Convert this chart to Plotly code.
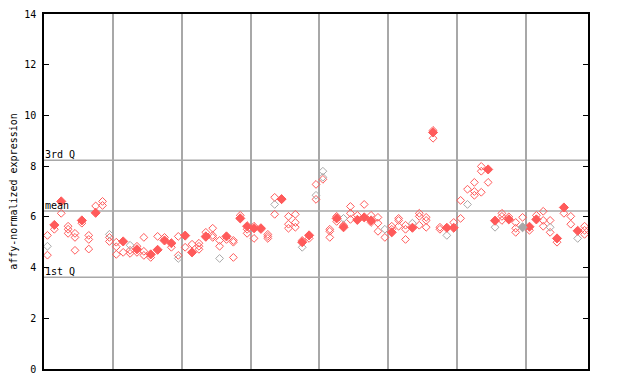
import plotly.graph_objects as go

# values per sample column (index 0..78): list of replicate values
col_values = [
    [5.27, 4.84, 4.49], [5.68, 5.51], [6.61, 6.14], [5.63, 5.51, 5.35], [5.35, 5.19, 4.68],
    [5.86, 5.75], [5.27, 5.11, 4.73], [6.43, 6.16], [6.61, 6.45], [5.31, 5.19, 5.03],
    [5.0, 4.82, 4.52], [5.03, 4.6], [4.88, 4.68, 4.56], [4.84, 4.72, 4.6], [5.19, 4.64, 4.48],
    [4.52, 4.4], [5.23, 4.7], [5.19, 5.07], [4.96, 4.8], [5.23, 4.48, 4.36],
    [5.26, 4.8], [4.92, 4.6], [4.96, 4.84, 4.72], [5.39, 5.23, 5.19], [5.55, 5.27, 5.19],
    [5.07, 4.84, 4.36], [5.23, 5.11], [5.07, 5.0, 4.4], [6.06, 5.94], [5.63, 5.51, 5.35],
    [5.63, 5.55, 5.15], [5.55, 5.5], [5.31, 5.23, 5.15], [6.77, 6.49, 6.1], [6.7, 6.68],
    [6.02, 5.71, 5.55], [6.1, 5.78, 5.59], [5.07, 5.0, 4.8], [5.27, 5.15], [7.28, 6.85, 6.69],
    [7.8, 7.56, 7.48], [5.51, 5.43, 5.19], [6.02, 5.94, 5.82], [5.94, 5.67, 5.59], [6.41, 6.14, 5.9],
    [6.06, 5.88], [6.49, 5.98], [6.06, 5.86, 5.78], [5.98, 5.75, 5.43], [5.51, 5.19],
    [5.63, 5.51, 5.39], [5.94, 5.86, 5.63], [5.67, 5.51, 5.11], [5.75, 5.57], [6.14, 6.02, 5.67],
    [5.98, 5.86, 5.59], [9.41, 9.33, 9.1], [5.59, 5.51], [5.57, 5.27], [5.78, 5.57],
    [6.65, 5.94], [7.09, 6.49], [7.36, 7.0, 6.85], [7.99, 7.8, 6.97], [7.87, 7.36],
    [5.85, 5.59], [6.14, 6.02, 5.86], [6.0, 5.9], [5.78, 5.55, 5.39], [5.98, 5.59],
    [5.61, 5.47], [6.06, 5.9], [6.22, 5.86, 5.63], [5.86, 5.59, 5.39], [5.15, 5.0],
    [6.37, 6.14], [6.02, 5.71], [5.45, 5.15], [5.63, 5.47, 5.31],
]
# which replicate (by column, index) is drawn filled
filled_points = [
    (1, 0), (2, 0), (5, 0), (7, 1), (11, 0), (13, 1), (15, 0), (16, 1), (17, 1), (18, 0),
    (20, 0), (21, 1), (23, 1), (26, 0), (28, 1), (29, 0), (30, 1), (31, 0), (34, 0), (37, 1),
    (38, 0), (42, 1), (43, 2), (45, 1), (46, 1), (47, 1), (50, 2), (53, 1), (56, 1), (58, 0),
    (59, 1), (64, 0), (65, 0), (67, 1), (69, 1), (70, 0), (71, 1), (74, 0), (75, 0), (77, 0),
]
# which replicates are drawn grey
grey_points = [
    (0, 1), (9, 0), (12, 0), (19, 2), (25, 2), (33, 1), (37, 2), (39, 1), (40, 0), (40, 1),
    (43, 0), (49, 0), (53, 0), (58, 1), (61, 1), (65, 1), (69, 1), (73, 1), (77, 1),
]
group_bounds = [9.5, 19.5, 29.5, 39.5, 49.5, 59.5, 69.5]
q3_value, mean_value, q1_value = 8.23, 6.23, 3.62
y_ticks = [0, 2, 4, 6, 8, 10, 12, 14]

RED = "#ff5a5a"
GREY = "#a8a8a8"
filled_set = set(filled_points)
grey_set = set(grey_points)

groups = {}
for ci, vals in enumerate(col_values):
    for ri, v in enumerate(vals):
        key = ((ci, ri) in filled_set, (ci, ri) in grey_set)
        groups.setdefault(key, ([], []))
        groups[key][0].append(ci)
        groups[key][1].append(v)

fig = go.Figure()
for (is_filled, is_grey), (xs, ys) in sorted(groups.items()):
    fig.add_trace(go.Scatter(
        x=xs, y=ys, mode="markers", showlegend=False, hoverinfo="skip",
        marker=dict(symbol="diamond" if is_filled else "diamond-open",
                    size=7 if is_filled else 6,
                    color=GREY if is_grey else RED,
                    line=dict(width=1, color=GREY if is_grey else RED)),
    ))

for yv, label in [(q3_value, "3rd Q"), (mean_value, "mean"), (q1_value, "1st Q")]:
    fig.add_shape(type="line", xref="paper", x0=0, x1=1, yref="y", y0=yv, y1=yv,
                  line=dict(color="#a8a8a8", width=1.5), layer="below")
    fig.add_annotation(xref="paper", x=0, y=yv, yref="y", text=label, showarrow=False,
                       xanchor="left", yanchor="bottom", xshift=-1, yshift=-2,
                       font=dict(family="DejaVu Sans Mono", size=10, color="#000000"))

# the page body adds an 8px offset, margins compensate for it
fig.update_layout(
    width=640, height=384,
    margin=dict(l=36, r=60, t=6, b=23, autoexpand=False),
    paper_bgcolor="white", plot_bgcolor="white",
    font=dict(family="DejaVu Sans Mono", size=10, color="black"),
    xaxis=dict(range=[-0.5, 78.5], tickvals=group_bounds, showticklabels=False, ticks="",
               showgrid=True, gridcolor="#a8a8a8", gridwidth=1.5, zeroline=False,
               showline=True, linecolor="black", linewidth=1.5, mirror=True,
               automargin=False),
    yaxis=dict(range=[0, 14], tickvals=y_ticks, ticks="inside", ticklen=5, tickcolor="black",
               showgrid=False, zeroline=False, showline=True, linecolor="black",
               linewidth=1.5, mirror="ticks", automargin=False, ticklabelstandoff=4,
               title=dict(text="affy-normalized expression", standoff=11,
                          font=dict(family="DejaVu Sans Mono", size=10))),
)

fig.write_html("out.html")
